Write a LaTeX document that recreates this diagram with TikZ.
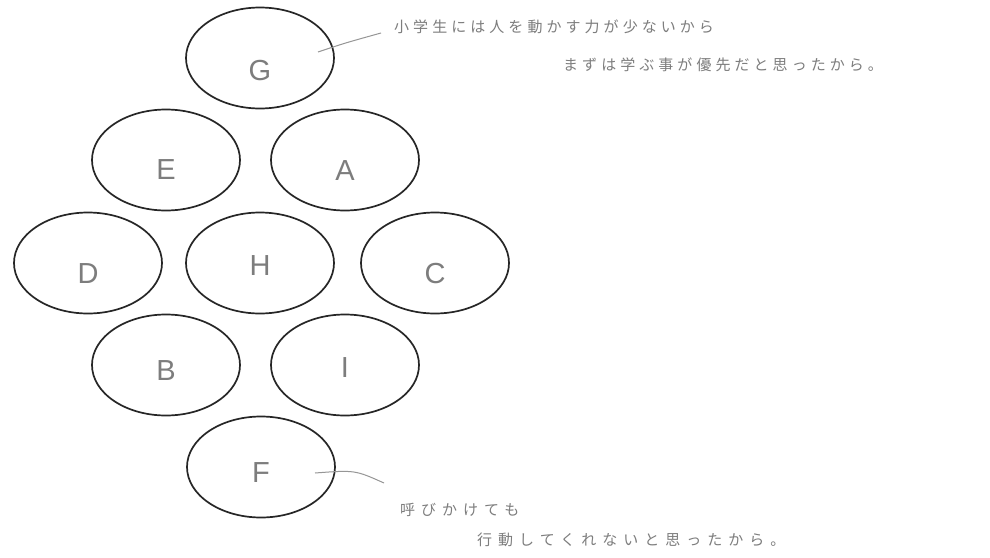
\documentclass[tikz,border=0pt]{standalone}
\usepackage{fontspec}
\setmainfont{Liberation Sans}
\newfontfamily\jpfont[LetterSpace=27]{Noto Sans CJK JP}
\newfontfamily\jpfontw[LetterSpace=40]{Noto Sans CJK JP}
\usetikzlibrary{shapes.geometric}
\definecolor{penc}{RGB}{125,125,125}
\definecolor{leadc}{RGB}{150,150,150}
\newcommand{\seatlbl}[2][0pt]{\raisebox{\dimexpr-#1-10.4pt\relax}[0pt][0pt]{#2}}
\tikzset{
  seat/.style={ellipse, draw=black!85, line width=1.7pt, minimum width=148pt, minimum height=101pt, inner sep=0pt,
    font=\fontsize{29}{29}\selectfont, text=penc},
  note/.style={anchor=west, inner sep=0pt, text=penc, font=\jpfont\fontsize{15}{16}\selectfont},
  notew/.style={note, font=\jpfontw\fontsize{15}{16}\selectfont},
  leader/.style={draw=leadc, line width=1pt}
}
\begin{document}
\begin{tikzpicture}[x=1pt,y=-1pt]
\fill[white] (0,0) rectangle (990,557);
\useasboundingbox (0,0) rectangle (990,557);
\node[seat] (G) at (260,58) {\seatlbl[12pt]{G}};
\node[seat] (E) at (166,160) {\seatlbl[9pt]{E}};
\node[seat] (A) at (345,160) {\seatlbl[10pt]{A}};
\node[seat] (D) at (88,263) {\seatlbl[10pt]{D}};
\node[seat] (H) at (260,263) {\seatlbl[2pt]{H}};
\node[seat] (C) at (435,263) {\seatlbl[10pt]{C}};
\node[seat] (B) at (166,365) {\seatlbl[5pt]{B}};
\node[seat] (I) at (345,365) {\seatlbl[2pt]{I}};
\node[seat] (F) at (261,467) {\seatlbl[5pt]{F}};

\node[note] (t1) at (394,27) {小学生には人を動かす力が少ないから};
\node[note] (t2) at (563,65) {まずは学ぶ事が優先だと思ったから。};
\node[notew] (t3) at (400,510) {呼びかけても};
\node[notew] (t4) at (477,540) {行動してくれないと思ったから。};

\coordinate (g1) at (318,52);
\coordinate (g2) at (381,33);
\coordinate (f1) at (315,473);
\coordinate (f2) at (384,483);
\draw[leader] (g1) .. controls (345,43) .. (g2);
\draw[leader] (f1) .. controls (355,470) .. (f2);
\end{tikzpicture}
\end{document}
